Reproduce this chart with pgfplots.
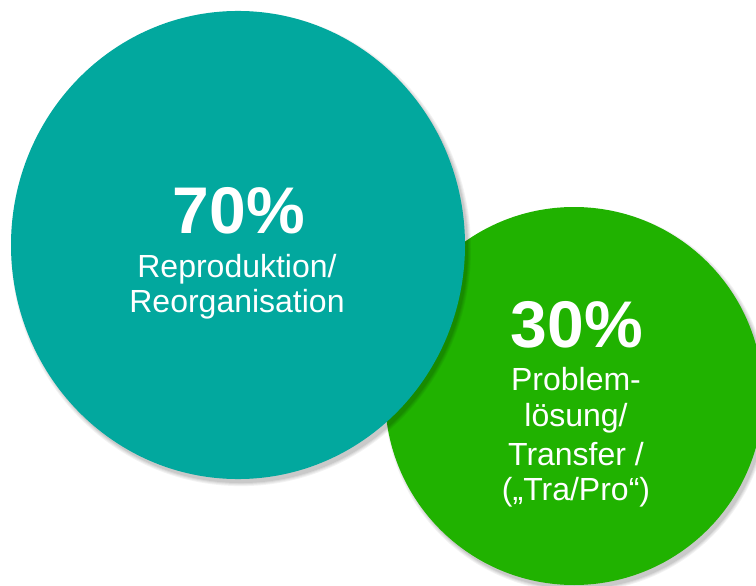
\documentclass[border=0pt]{standalone}
\usepackage{pgfplots}
\pgfplotsset{compat=1.18}
\usepackage{fontspec}
\setmainfont{Liberation Sans}
\definecolor{tealc}{RGB}{2,168,158}
\definecolor{greenc}{RGB}{32,178,0}
\tikzset{shadowmark/.style={draw=none, draw opacity=0, line width=0pt, fill=black, fill opacity=#1, xshift=3pt, yshift=-4pt}}
\begin{document}
\begin{tikzpicture}
\begin{axis}[
  width=756pt, height=586pt, scale only axis,
  xmin=0, xmax=756, ymin=0, ymax=586, y dir=reverse,
  hide axis, clip=true, clip marker paths=true,
  every axis plot/.append style={only marks, mark=*, draw opacity=0},
]
% green circle shadow layers
\addplot[mark size=192pt, mark options={shadowmark=0.05}] coordinates {(574,396)};
\addplot[mark size=191pt, mark options={shadowmark=0.05}] coordinates {(574,396)};
\addplot[mark size=190pt, mark options={shadowmark=0.06}] coordinates {(574,396)};
\addplot[mark size=189pt, mark options={shadowmark=0.07}] coordinates {(574,396)};
% green circle
\addplot[mark size=189pt, mark options={draw=none, draw opacity=0, line width=0pt, fill=greenc}] coordinates {(574,396)};
% teal circle shadow layers
\addplot[mark size=230pt, mark options={shadowmark=0.05, yscale=1.031}] coordinates {(238,245)};
\addplot[mark size=229pt, mark options={shadowmark=0.05, yscale=1.031}] coordinates {(238,245)};
\addplot[mark size=228pt, mark options={shadowmark=0.06, yscale=1.031}] coordinates {(238,245)};
\addplot[mark size=227pt, mark options={shadowmark=0.07, yscale=1.031}] coordinates {(238,245)};
% teal circle
\addplot[mark size=227pt, mark options={draw=none, draw opacity=0, line width=0pt, fill=tealc, yscale=1.031}] coordinates {(238,245)};
% labels
\node[anchor=base, text=white, font=\fontsize{66}{70}\selectfont\bfseries, inner sep=0pt] at (axis cs:239,233) {70\%};
\node[anchor=base, text=white, font=\fontsize{32}{36}\selectfont, inner sep=0pt] at (axis cs:237,277) {Reproduktion/};
\node[anchor=base, text=white, font=\fontsize{32}{36}\selectfont, inner sep=0pt] at (axis cs:237,312) {Reorganisation};
\node[anchor=base, text=white, font=\fontsize{66}{70}\selectfont\bfseries, inner sep=0pt] at (axis cs:577,347.5) {30\%};
\node[anchor=base, text=white, font=\fontsize{32}{36}\selectfont, inner sep=0pt] at (axis cs:576,390.5) {Problem-};
\node[anchor=base, text=white, font=\fontsize{32}{36}\selectfont, inner sep=0pt] at (axis cs:576,426) {lösung/};
\node[anchor=base, text=white, font=\fontsize{32}{36}\selectfont, inner sep=0pt] at (axis cs:576,465) {Transfer /};
\node[anchor=base, text=white, font=\fontsize{32}{36}\selectfont, inner sep=0pt] at (axis cs:576,500.5) {(„Tra/Pro“)};
\end{axis}
\pgfresetboundingbox
\useasboundingbox (current axis.south west) rectangle (current axis.north east);
\end{tikzpicture}
\end{document}
